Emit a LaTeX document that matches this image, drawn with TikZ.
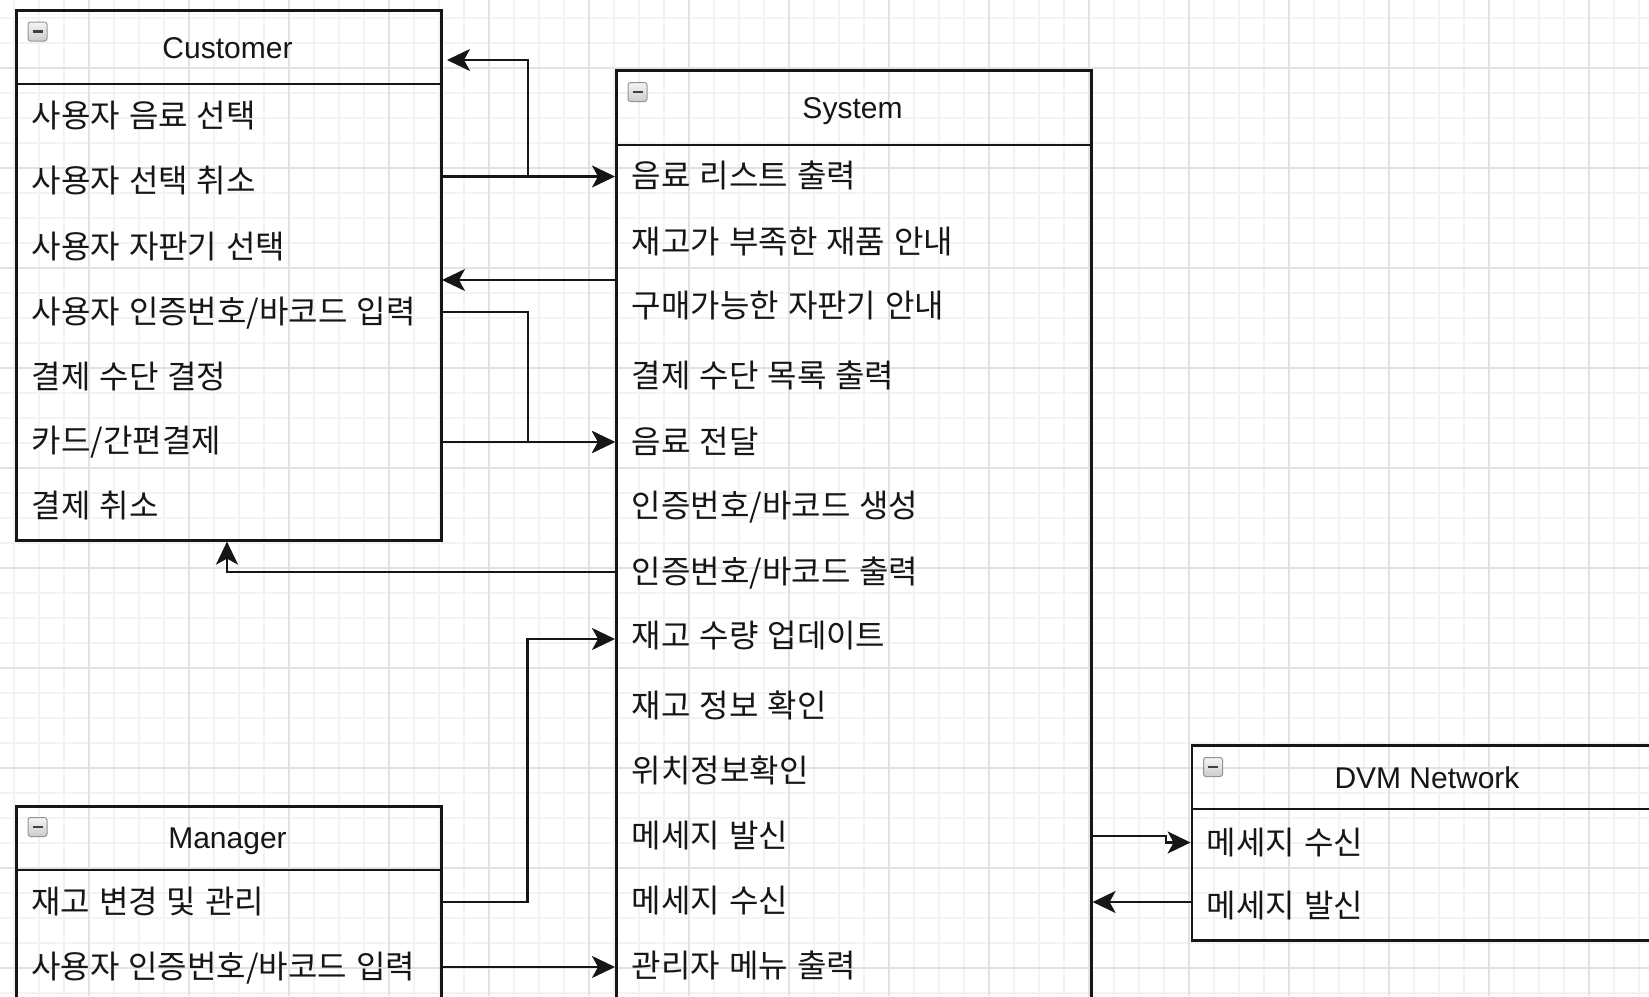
\documentclass[tikz,border=0pt]{standalone}
\usepackage{fontspec}
\setmainfont{Liberation Sans}
\newfontfamily\kr[WordSpace=1.25]{Noto Sans CJK KR}
\usetikzlibrary{arrows.meta}
\definecolor{gmin}{RGB}{243,243,243}
\definecolor{gmaj}{RGB}{226,226,226}
\definecolor{ink}{RGB}{22,22,22}
\begin{document}
\begin{tikzpicture}[x=1pt,y=-1pt,
  box/.style={draw=ink, line width=2.6pt, rectangle, inner sep=0pt, anchor=north west},
  hline/.style={draw=ink, line width=2.6pt},
  ttl/.style={font=\fontsize{30}{36}\selectfont, inner sep=0pt, anchor=base, text=ink},
  row/.style={font=\kr\fontsize{32}{38}\selectfont, inner sep=0pt, anchor=base west, text=ink},
  conn/.style={draw=ink, line width=2.4pt, -{Stealth[length=23pt,width=22pt,inset=6pt]}},
  icon/.style={rectangle, rounded corners=2.5pt, minimum width=19pt, minimum height=19pt,
    draw={rgb,255:red,140;green,150;blue,160}, line width=1pt, top color=gray!8, bottom color=gray!40,
    path picture={\draw[line width=2.6pt, black!75] ([xshift=-5pt]path picture bounding box.center) -- ([xshift=5pt]path picture bounding box.center);}}
]
\useasboundingbox (0,0) rectangle (1649,996);
\begin{scope}
\clip (0,0) rectangle (1649,996);
\fill[white] (0,0) rectangle (1649,996);
% grid
\foreach \x in {14,39,...,1649} \draw[gmin, line width=1.3pt] (\x,0) -- (\x,996);
\foreach \y in {18,43,...,996} \draw[gmin, line width=1.3pt] (0,\y) -- (1649,\y);
\foreach \x in {89,189,...,1649} \draw[gmaj, line width=1.2pt] (\x,0) -- (\x,996);
\foreach \y in {68,168,...,996} \draw[gmaj, line width=1.2pt] (0,\y) -- (1649,\y);

% ---------- Customer ----------
\node[box, minimum width=425pt, minimum height=530pt] (cust) at (15,9) {};
\draw[hline] (cust.west |- 0,84) -- (cust.east |- 0,84);
\node[icon] (custicon) at (37.5,31.5) {};
\node[ttl] (custt) at (227.5,58) {Customer};
\node[row] (c1) at (31.6,127) {사용자 음료 선택};
\node[row] (c2) at (31.6,192) {사용자 선택 취소};
\node[row] (c3) at (31.6,258) {사용자 자판기 선택};
\node[row] (c4) at (31.6,323) {사용자 인증번호/바코드 입력};
\node[row] (c5) at (31.6,388) {결제 수단 결정};
\node[row] (c6) at (31.6,452) {카드/간편결제};
\node[row] (c7) at (31.6,517) {결제 취소};

% ---------- System ----------
\node[box, minimum width=475pt, minimum height=1000pt] (sys) at (615,69) {};
\draw[hline] (sys.west |- 0,145) -- (sys.east |- 0,145);
\node[icon] (sysicon) at (637.5,92) {};
\node[ttl] (syst) at (852.5,118) {System};
\node[row] (s1) at (631.7,187) {음료 리스트 출력};
\node[row] (s2) at (631.7,253) {재고가 부족한 재품 안내};
\node[row] (s3) at (631.7,317) {구매가능한 자판기 안내};
\node[row] (s4) at (631.7,387) {결제 수단 목록 출력};
\node[row] (s5) at (631.7,453) {음료 전달};
\node[row] (s6) at (631.7,517) {인증번호/바코드 생성};
\node[row] (s7) at (631.7,583) {인증번호/바코드 출력};
\node[row] (s8) at (631.7,647) {재고 수량 업데이트};
\node[row] (s9) at (631.7,717) {재고 정보 확인};
\node[row] (s10) at (631.7,782) {위치정보확인};
\node[row] (s11) at (631.7,847) {메세지 발신};
\node[row] (s12) at (631.7,912) {메세지 수신};
\node[row] (s13) at (631.7,977) {관리자 메뉴 출력};

% ---------- Manager ----------
\node[box, minimum width=425pt, minimum height=250pt] (mgr) at (15,805) {};
\draw[hline] (mgr.west |- 0,870) -- (mgr.east |- 0,870);
\node[icon] (mgricon) at (37.5,827) {};
\node[ttl] (mgrt) at (227.5,848.7) {Manager};
\node[row] (m1) at (31,913) {재고 변경 및 관리};
\node[row] (m2) at (31,978) {사용자 인증번호/바코드 입력};

% ---------- DVM Network ----------
\node[box, minimum width=472pt, minimum height=195pt] (dvm) at (1190.6,744) {};
\draw[hline] (dvm.west |- 0,809) -- (dvm.east |- 0,809);
\node[icon] (dvmicon) at (1213,767) {};
\node[ttl] (dvmt) at (1427,788) {DVM Network};
\node[row] (d1) at (1206.6,854) {메세지 수신};
\node[row] (d2) at (1206.6,917) {메세지 발신};

% ---------- connectors ----------
\coordinate (j1) at (528,176.5);
\coordinate (j1t) at (528,60);
\coordinate (custtip) at (447,60);
\coordinate (custtip2) at (442,280);
\coordinate (j2) at (528,312);
\coordinate (j2b) at (528,442);
\coordinate (j3) at (227,572);
\coordinate (j4) at (527.5,902);
\coordinate (j4t) at (527.5,639);
\coordinate (j5) at (1166,836);
\coordinate (j5b) at (1166,842.5);
\coordinate (mrow2) at (0,967);
\coordinate (drow2) at (0,902);

\draw[conn] (cust.east |- j1) -- (sys.west |- j1);
\draw[conn] (j1) -- (j1t) -- (custtip);
\draw[conn] (sys.west |- custtip2) -- (custtip2);
\draw[conn] (cust.east |- j2) -- (j2) -- (j2b) -- (sys.west |- j2b);
\draw[conn] (cust.east |- j2b) -- (sys.west |- j2b);
\draw[conn] (sys.west |- j3) -- (j3) -- (cust.south -| j3);
\draw[conn] (mgr.east |- j4) -- (j4) -- (j4t) -- (sys.west |- j4t);
\draw[conn] (mgr.east |- mrow2) -- (sys.west |- mrow2);
\draw[conn] (sys.east |- j5) -- (j5) -- (j5b) -- (dvm.west |- j5b);
\draw[conn] (dvm.west |- drow2) -- (sys.east |- drow2);
\end{scope}
\end{tikzpicture}
\end{document}
